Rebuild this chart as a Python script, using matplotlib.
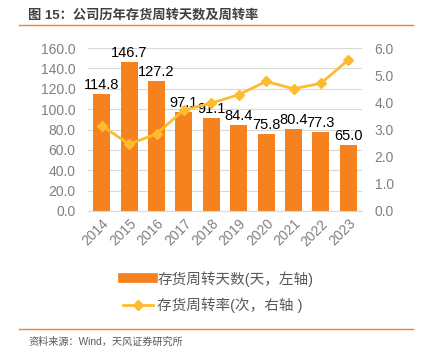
import numpy as np
import matplotlib.pyplot as plt
from matplotlib.lines import Line2D

plt.rcParams['font.family'] = ['Liberation Sans', 'Noto Sans CJK SC', 'DejaVu Sans']

# 数据
years = ['2014', '2015', '2016', '2017', '2018', '2019', '2020', '2021', '2022', '2023']
days = [114.8, 146.7, 127.2, 97.1, 91.1, 84.4, 75.8, 80.4, 77.3, 65.0]
turnover = [3.14, 2.46, 2.84, 3.72, 3.97, 4.28, 4.77, 4.50, 4.70, 5.56]

bar_color = '#F5821F'
line_color = '#FDBB2D'
gray = '#808080'

fig = plt.figure(figsize=(4.24, 3.59), dpi=100)
ax = fig.add_axes([88/424, 1-211/359, 274/424, 163/359])
ax2 = ax.twinx()

x = np.arange(len(years))
ax.bar(x, days, width=0.62, color=bar_color, zorder=2)
ax2.plot(x, turnover, color=line_color, lw=2, marker='D', ms=5, zorder=3)

for xi, v in zip(x, days):
    ax.text(xi, v + 2, f'{v:.1f}', ha='center', va='bottom', fontsize=10.5, color='black', zorder=5)

ax.set_xlim(-0.5, 9.5)
ax.set_ylim(0, 160)
ax2.set_ylim(0, 6)
ax.set_yticks(np.arange(0, 161, 20))
ax.set_yticklabels([f'{v:.1f}' for v in np.arange(0, 161, 20)])
ax2.set_yticks(np.arange(0, 6.1, 1))
ax2.set_yticklabels([f'{v:.1f}' for v in np.arange(0, 6.1, 1)])
ax.set_xticks(x)
ax.set_xticklabels(years, rotation=45, ha='right', rotation_mode='anchor')

ax.grid(axis='y', color='#D9D9D9', lw=0.8, zorder=0)
ax.set_axisbelow(True)
for a in (ax, ax2):
    for s in a.spines.values():
        s.set_visible(False)
    a.tick_params(length=0, labelsize=10, labelcolor=gray)
ax.spines['bottom'].set_visible(True)
ax.spines['bottom'].set_color('#D9D9D9')
ax.tick_params(axis='x', pad=4)
ax.tick_params(axis='y', pad=9)
ax2.tick_params(axis='y', pad=9)

# 图例
handles = [Line2D([], [], color=bar_color, lw=7),
           Line2D([], [], color=line_color, lw=2, marker='D', ms=5)]
labels = ['存货周转天数(天，左轴)', '存货周转率(次，右轴 )']
fig.legend(handles, labels, loc='center', bbox_to_anchor=(218/424, 1-292/359),
           frameon=False, fontsize=10.5, labelcolor='#595959', handlelength=2.1,
           handletextpad=0.25, labelspacing=0.75)

# 标题与来源
fig.text(28/424, 1-15/359, '图 15：公司历年存货周转天数及周转率', fontsize=9.5,
         color='#404040', va='center', fontweight='bold')
fig.add_artist(Line2D([19/424, 413/424], [1-25/359, 1-25/359], color='#F5821F', lw=1))
fig.add_artist(Line2D([19/424, 413/424], [1-329/359, 1-329/359], color='#F5821F', lw=1))
fig.text(28/424, 1-342/359, '资料来源：Wind，天风证券研究所', fontsize=7.3,
         color='#595959', va='center')

fig.savefig('out.png', dpi=100)
